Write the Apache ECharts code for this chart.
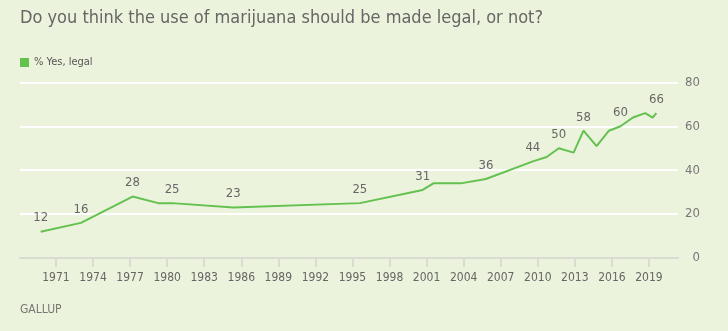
<!DOCTYPE html>
<html><head><meta charset="utf-8">
<script src="https://cdn.jsdelivr.net/npm/echarts@6/dist/echarts.min.js"></script>
<style>html,body{margin:0;padding:0;background:#ecf3dc}#c{width:728px;height:331px}</style>
</head><body><div id="c"></div>
<script>
const years = [1969.76, 1973.02, 1977.2, 1979.28, 1980.4, 1985.35, 1995.6, 2000.68, 2001.55, 2003.76, 2005.8, 2009.6, 2010.72, 2011.7, 2012.9, 2013.7, 2014.76, 2015.76, 2016.7, 2017.7, 2018.7, 2019.3, 2019.6];
const values = [12, 16, 28, 25, 25, 23, 25, 31, 34, 34, 36, 44, 46, 50, 48, 58, 51, 58, 60, 64, 66, 64, 66];
const labelled = [1, 1, 1, 0, 1, 1, 1, 1, 0, 0, 1, 1, 0, 1, 0, 1, 0, 0, 1, 0, 0, 0, 1];
const tickYears = [1971, 1974, 1977, 1980, 1983, 1986, 1989, 1992, 1995, 1998, 2001, 2004, 2007, 2010, 2013, 2016, 2019];
const yTicks = [0, 20, 40, 60, 80];

const FONT = '"Liberation Sans Narrow", "DejaVu Sans Condensed", "Roboto", sans-serif';
const chart = echarts.init(document.getElementById('c'), null, {renderer: 'canvas'});
const green = '#63c150';
chart.setOption({
  backgroundColor: '#ecf3dc',
  animation: false,
  title: [
    {text: 'Do you think the use of marijuana should be made legal, or not?', left: 15, top: 4,
     textStyle: {fontFamily: FONT, fontSize: 18, fontWeight: 'normal', color: '#666'}},
    {text: 'GALLUP', left: 15, top: 299,
     textStyle: {fontFamily: FONT, fontSize: 12, fontWeight: 'normal', color: '#777'}}
  ],
  legend: {
    left: 15, top: 52, icon: 'rect', itemWidth: 9, itemHeight: 9, itemGap: 6,
    textStyle: {fontFamily: FONT, fontSize: 11, color: '#555'},
    data: ['% Yes, legal']
  },
  grid: {left: 20, right: 50, top: 82.4, bottom: 73},
  xAxis: {
    type: 'value', min: 1968.09, max: 2021.35,
    axisLine: {show: true, lineStyle: {color: '#d9dcd2', width: 2}},
    axisTick: {show: true, customValues: tickYears, length: 9, lineStyle: {color: '#d9dcd2', width: 2}},
    axisLabel: {customValues: tickYears, margin: 14, color: '#666', fontFamily: FONT, fontSize: 12,
      formatter: v => String(Math.round(v))},
    splitLine: {show: false}
  },
  yAxis: {
    type: 'value', position: 'right', min: 0, max: 80, interval: 20,
    axisLine: {show: false}, axisTick: {show: false},
    axisLabel: {align: 'right', margin: 22, color: '#777', fontFamily: FONT, fontSize: 13,
      customValues: yTicks},
    splitLine: {show: true, lineStyle: {color: '#ffffff', width: 2}}
  },
  series: [{
    name: '% Yes, legal', type: 'line', color: green,
    symbol: 'circle', symbolSize: 0.1, showSymbol: true,
    lineStyle: {color: green, width: 2},
    itemStyle: {color: green},
    data: years.map((y, i) => ({
      value: [y, values[i]],
      label: {show: !!labelled[i], position: 'top', distance: 7, formatter: String(values[i]),
        color: '#666', fontFamily: FONT, fontSize: 13}
    }))
  }]
});
</script></body></html>
